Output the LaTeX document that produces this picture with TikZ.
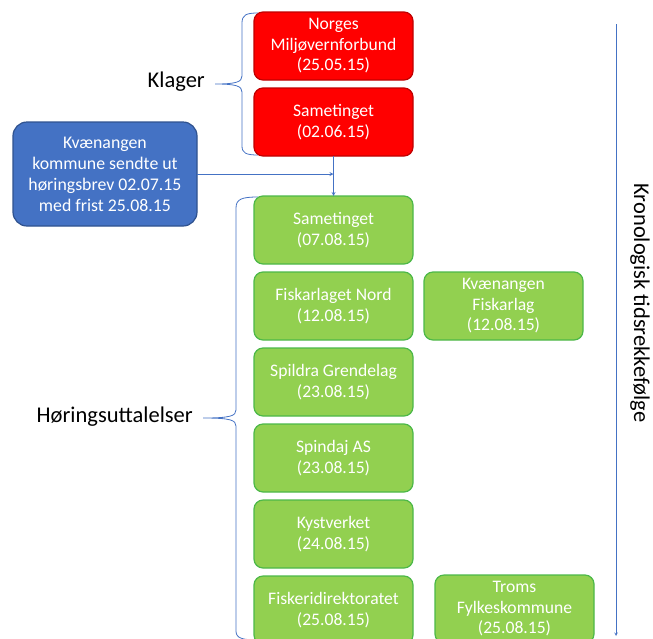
\documentclass[tikz,border=0pt]{standalone}
\usepackage{fontspec}
\setmainfont{Carlito}
\usepackage{xcolor}
\usepackage{tikz}
\usetikzlibrary{positioning}
\usetikzlibrary{calc}
\definecolor{klagerod}{HTML}{FF0000}
\definecolor{klagekant}{HTML}{C00000}
\definecolor{hoeringgronn}{HTML}{92D050}
\definecolor{hoeringkant}{HTML}{4CB848}
\definecolor{brevblaa}{HTML}{4472C4}
\definecolor{brevkant}{HTML}{2F528F}
\definecolor{linjeblaa}{HTML}{4472C4}
\tikzstyle{klage} = [rectangle, rounded corners=9pt, minimum width=159pt, minimum height=68pt, outer sep=0pt, text centered, align=center, draw=klagekant, fill=klagerod, line width=1.2pt, text=white, font=\fontsize{17.6}{20.5}\selectfont]
\tikzstyle{uttalelse} = [rectangle, rounded corners=9pt, minimum width=159pt, minimum height=68pt, outer sep=0pt, text centered, align=center, draw=hoeringkant, fill=hoeringgronn, line width=1.2pt, text=white, font=\fontsize{17.6}{20.5}\selectfont]
\tikzstyle{brev} = [rectangle, rounded corners=14pt, minimum width=184pt, minimum height=104pt, outer sep=0pt, text centered, align=center, draw=brevkant, fill=brevblaa, line width=1.2pt, text=white, font=\fontsize{17.8}{21}\selectfont]
\tikzstyle{arrow} = [line width=0.8pt, draw=linjeblaa, ->, >=stealth]
\tikzstyle{klammer} = [line width=0.8pt, draw=linjeblaa]
\tikzstyle{gruppe} = [font=\fontsize{22.5}{26}\selectfont, inner sep=0pt]

\begin{document}
\begin{tikzpicture}[x=1pt, y=1pt]
		\useasboundingbox (0,0) rectangle (653,-638);
		% klammer
		\draw [klammer] (258,-13) .. controls (246,-13) and (242,-15) .. (242,-23) -- (242,-76) .. controls (242,-82) and (236,-84) .. (215,-84) .. controls (236,-84) and (242,-86) .. (242,-92) -- (242,-146) .. controls (242,-153) and (246,-155) .. (258,-155);
		\draw [klammer] (258,-197) .. controls (242,-197) and (236,-199) .. (236,-208) -- (236,-410) .. controls (236,-416) and (230,-418) .. (203,-418) .. controls (230,-418) and (236,-420) .. (236,-426) -- (236,-631) .. controls (236,-638) and (242,-640) .. (258,-640);
		\coordinate (ktip) at (215,-84);
		\coordinate (htip) at (203,-418);
		\node (klager) [gruppe, left=10pt of ktip, yshift=2pt] {Klager};
		\node (hoering) [gruppe, left=10pt of htip, yshift=1pt] {Høringsuttalelser};
		% boksene
		\node (klage1) [klage] at (333.5,-46) {Norges\\Miljøvernforbund\\(25.05.15)};
		\node (klage2) [klage, below=8pt of klage1] {Sametinget\\(02.06.15)};
		\node (brev) [brev] at (105,-174) {Kvænangen\\kommune sendte ut\\høringsbrev 02.07.15\\med frist 25.08.15};
		\node (utt1) [uttalelse] at (333.5,-230) {Sametinget\\(07.08.15)};
		\node (utt2) [uttalelse, below=8pt of utt1] {Fiskarlaget Nord\\(12.08.15)};
		\node (utt3) [uttalelse, below=8pt of utt2] {Spildra Grendelag\\(23.08.15)};
		\node (utt4) [uttalelse, below=8pt of utt3] {Spindaj AS\\(23.08.15)};
		\node (utt5) [uttalelse, below=8pt of utt4] {Kystverket\\(24.08.15)};
		\node (utt6) [uttalelse, below=8pt of utt5] {Fiskeridirektoratet\\(25.08.15)};
		\node (fisklag) [uttalelse, right=11pt of utt2] {Kvænangen\\Fiskarlag\\(12.08.15)};
		\node (troms) [uttalelse, right=22pt of utt6, yshift=1pt] {Troms\\Fylkeskommune\\(25.08.15)};
		% piler
		\coordinate (inn) at (klage2.south |- brev.east);
		\draw [arrow](klage2) -- (utt1);
		\draw [arrow](brev.east) -- (inn);
		% tidslinje
		\coordinate (tstart) at (616,-24);
		\coordinate (tslutt) at (616,-636);
		\draw [arrow, line width=0.6pt](tstart) -- (tslutt);
		\node (tid) [rotate=-90, inner sep=0pt, font=\fontsize{22.5}{26}\selectfont] at (640,-303) {Kronologisk tidsrekkefølge};
	\end{tikzpicture}
\end{document}
